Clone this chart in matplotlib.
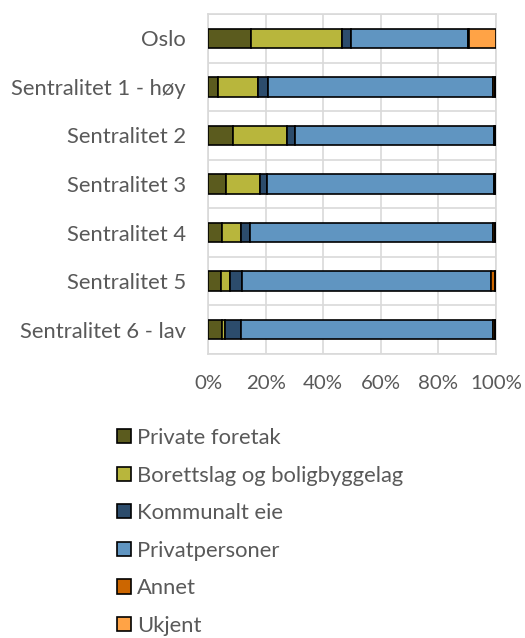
import matplotlib
matplotlib.use("Agg")
import matplotlib.pyplot as plt
import numpy as np
from matplotlib.patches import Patch

categories = ["Oslo", "Sentralitet 1 - høy", "Sentralitet 2", "Sentralitet 3",
              "Sentralitet 4", "Sentralitet 5", "Sentralitet 6 - lav"]
series_names = ["Private foretak", "Borettslag og boligbyggelag", "Kommunalt eie",
                "Privatpersoner", "Annet", "Ukjent"]
private_foretak = [14.9, 3.6, 8.6, 6.2, 4.9, 4.5, 4.9]
borettslag = [31.5, 13.9, 18.7, 11.7, 6.4, 3.1, 1.0]
kommunalt = [3.3, 3.4, 2.8, 2.7, 3.3, 4.2, 5.4]
privatpersoner = [40.5, 77.9, 69.3, 78.7, 84.5, 86.5, 87.7]
annet = [0.4, 0.8, 0.4, 0.5, 0.6, 1.2, 0.7]
ukjent = [9.4, 0.4, 0.2, 0.2, 0.3, 0.5, 0.3]
x_ticks = [0, 20, 40, 60, 80, 100]
x_tick_labels = ["0%", "20%", "40%", "60%", "80%", "100%"]

colors = ["#5b5b1e", "#b8b63c", "#2c4c6c", "#6095c1", "#cc6600", "#ffa346"]
series = [private_foretak, borettslag, kommunalt, privatpersoner, annet, ukjent]

plt.rcParams['font.family'] = ['Lato', 'DejaVu Sans']
text_color = "#595959"

fig = plt.figure(figsize=(5.25, 6.38), dpi=100)
W, H = 525, 638
ax = fig.add_axes([208 / W, 1 - 354 / H, (496 - 208) / W, (354 - 14) / H])

y = np.arange(len(categories))
left = np.zeros(len(categories))
for vals, c, name in zip(series, colors, series_names):
    v = np.array(vals)
    ax.barh(y, v, left=left, height=0.4, color=c, edgecolor="black", linewidth=1.2,
            label=name, zorder=3)
    left += v

ax.set_xlim(0, 100)
ax.set_ylim(len(categories) - 0.5, -0.5)
ax.set_xticks(x_ticks)
ax.set_xticklabels(x_tick_labels)
ax.set_yticks(y)
ax.set_yticklabels(categories)
ax.set_yticks(np.arange(-0.5, len(categories), 1.0), minor=True)
ax.grid(axis="x", which="major", color="#d9d9d9", linewidth=1.2, zorder=0)
ax.grid(axis="y", which="minor", color="#d9d9d9", linewidth=1.2, zorder=0)
ax.grid(axis="y", which="major", visible=False)
ax.tick_params(axis="both", which="both", length=0, colors=text_color)
ax.tick_params(axis="x", pad=15, labelsize=14.7)
ax.tick_params(axis="y", pad=16, labelsize=15.8)
for s in ax.spines.values():
    s.set_color("#d9d9d9")
    s.set_linewidth(1.2)

handles = [Patch(facecolor=c, edgecolor="black", linewidth=1.2) for c in colors]
leg = fig.legend(handles, series_names, loc="upper left",
                 bbox_to_anchor=(117 / W, 1 - 428 / H), frameon=False,
                 fontsize=15.8, labelspacing=0.80, handlelength=0.62, handleheight=0.62,
                 handletextpad=0.3, borderaxespad=0, borderpad=0)
for t in leg.get_texts():
    t.set_color(text_color)

fig.savefig("out.png", dpi=100)
